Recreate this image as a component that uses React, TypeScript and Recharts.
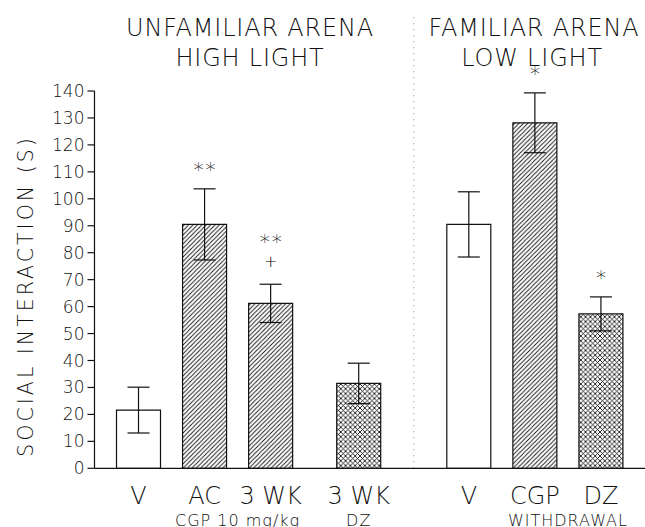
import React from "react";
import {
  ComposedChart,
  Bar,
  Cell,
  ErrorBar,
  Scatter,
  XAxis,
  YAxis,
  ReferenceLine,
} from "recharts";

// Social interaction (s), mean ± SEM per group
const categories = ["V", "AC", "3 WK", "3 WK", "V", "CGP", "DZ"];
const positions = [0, 3, 6, 10, 15, 18, 21];
const means = [21.6, 90.5, 61.2, 31.5, 90.5, 128.2, 57.3];
const errors = [8.5, 13.2, 7.1, 7.5, 12.1, 11.1, 6.3];
const fills = ["open", "hatch", "hatch", "cross", "open", "hatch", "cross"];
const stars = ["", "**", "**", "", "", "*", "*"];
const daggers = ["", "", "+", "", "", "", ""];

const groupLabels = ["CGP 10 mg/kg", "DZ", "WITHDRAWAL"];
const groupPositions = [4.5, 10, 19.5];

const yTicks = [0, 10, 20, 30, 40, 50, 60, 70, 80, 90, 100, 110, 120, 130, 140];

const INK = "#111";
const FONT = "'DejaVu Sans', sans-serif";

const rows = categories.map((name, i) => ({
  name,
  pos: positions[i],
  mean: means[i],
  err: errors[i],
  top: means[i] + errors[i],
  fill: fills[i],
  stars: stars[i],
  dagger: daggers[i],
}));

const fillFor = (f: string) =>
  f === "hatch" ? "url(#hatch)" : f === "cross" ? "url(#cross)" : "#fff";

// significance marks stacked above each error bar
function Marks(props: any) {
  const { cx, cy, payload } = props;
  if (cx == null || cy == null) return null;
  const lines: string[] = [];
  if (payload.dagger) lines.push(payload.dagger);
  if (payload.stars) lines.push(payload.stars);
  return (
    <g>
      {lines.map((line, i) => {
        const yc = cy - 23 * (i + 1);
        const chars = line.split("");
        return chars.map((c, j) => (
          <text
            key={`${i}-${j}`}
            x={cx + (j - (chars.length - 1) / 2) * 12}
            y={yc}
            textAnchor="middle"
            dominantBaseline="central"
            fontFamily={FONT}
            fontWeight={200}
            fontSize={c === "*" ? 20 : 16}
            fill="#000"
          >
            {c === "*" ? "\u2217" : c}
          </text>
        ));
      })}
    </g>
  );
}

export default function App() {
  const textStyle = { fontFamily: FONT, fontWeight: 200, fill: INK };
  return (
    <div style={{ position: "absolute", left: 0, top: 0, background: "#fff" }}>
      <ComposedChart
        width={645}
        height={527}
        data={rows}
        margin={{ top: 91, right: 0, bottom: 0, left: 0 }}
      >
        <defs>
          <pattern id="hatch" patternUnits="userSpaceOnUse" width={4.4} height={4.4}>
            <rect width={4.4} height={4.4} fill="#fff" />
            <path
              d="M0,4.4 L4.4,0 M-1,1 L1,-1 M3.4,5.4 L5.4,3.4"
              stroke={INK}
              strokeWidth={0.9}
            />
          </pattern>
          <pattern id="cross" patternUnits="userSpaceOnUse" width={4.8} height={4.8}>
            <rect width={4.8} height={4.8} fill="#fff" />
            <path
              d="M0,4.8 L4.8,0 M-1,1 L1,-1 M3.8,5.8 L5.8,3.8 M0,0 L4.8,4.8 M-1,3.8 L1,5.8 M3.8,-1 L5.8,1"
              stroke={INK}
              strokeWidth={0.9}
            />
          </pattern>
        </defs>

        <text x={250} y={36} textAnchor="middle" fontSize={24} letterSpacing={0.8} {...textStyle}>
          UNFAMILIAR ARENA
        </text>
        <text x={250} y={66} textAnchor="middle" fontSize={24} letterSpacing={0.8} {...textStyle}>
          HIGH LIGHT
        </text>
        <text x={534} y={36} textAnchor="middle" fontSize={24} letterSpacing={0.8} {...textStyle}>
          FAMILIAR ARENA
        </text>
        <text x={532} y={66} textAnchor="middle" fontSize={24} letterSpacing={0.8} {...textStyle}>
          LOW LIGHT
        </text>
        <text
          transform="translate(26,296) rotate(-90)"
          textAnchor="middle"
          dominantBaseline="central"
          fontSize={20.5}
          letterSpacing={3}
          {...textStyle}
        >
          SOCIAL INTERACTION (S)
        </text>

        <XAxis
          dataKey="pos"
          type="number"
          domain={[-2, 23]}
          ticks={positions}
          tickFormatter={(v: number) => categories[positions.indexOf(v)] ?? ""}
          interval={0}
          height={30}
          axisLine={{ stroke: INK, strokeWidth: 1.2 }}
          tickLine={false}
          tickSize={6}
          tickMargin={13}
          tick={{ fontSize: 24, ...textStyle }}
        />
        <XAxis
          xAxisId="grp"
          dataKey="pos"
          type="number"
          domain={[-2, 23]}
          ticks={groupPositions}
          tickFormatter={(v: number) => groupLabels[groupPositions.indexOf(v)] ?? ""}
          interval={0}
          height={28.7}
          axisLine={false}
          tickLine={false}
          tickSize={6}
          tickMargin={10}
          tick={{ fontSize: 16, letterSpacing: 1, ...textStyle }}
        />
        <YAxis
          type="number"
          domain={[0, 140]}
          ticks={yTicks}
          interval={0}
          width={94.5}
          axisLine={{ stroke: INK, strokeWidth: 1.2 }}
          tickLine={{ stroke: INK, strokeWidth: 1.2 }}
          tickSize={7}
          tickMargin={3}
          tick={{ fontSize: 17, ...textStyle }}
        />

        <ReferenceLine
          segment={[
            { x: 12.5, y: 0 },
            { x: 12.5, y: 168 },
          ]}
          ifOverflow="visible"
          stroke="#888"
          strokeWidth={1}
          strokeDasharray="1 5"
        />

        <Bar dataKey="mean" barSize={44} stroke={INK} strokeWidth={1.2} isAnimationActive={false}>
          {rows.map((r, i) => (
            <Cell key={i} fill={fillFor(r.fill)} />
          ))}
          <ErrorBar dataKey="err" width={11} stroke={INK} strokeWidth={1.2} />
        </Bar>
        <Scatter dataKey="top" shape={<Marks />} isAnimationActive={false} />
      </ComposedChart>
    </div>
  );
}
